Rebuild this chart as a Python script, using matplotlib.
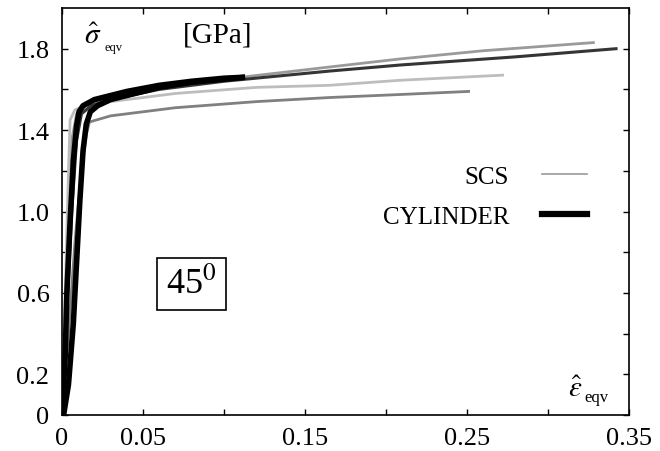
import matplotlib
matplotlib.use("Agg")
import matplotlib.pyplot as plt
from matplotlib.lines import Line2D

# SCS curves (grey)
scs_top_x = [0, 0.002, 0.004, 0.006, 0.009, 0.015, 0.03, 0.06, 0.10, 0.165, 0.209, 0.26, 0.328]
scs_top_y = [0, 0.50, 1.00, 1.35, 1.48, 1.52, 1.56, 1.61, 1.65, 1.71, 1.75, 1.79, 1.83]
scs_dark_x = [0, 0.003, 0.006, 0.009, 0.012, 0.018, 0.03, 0.06, 0.10, 0.165, 0.209, 0.28, 0.342]
scs_dark_y = [0, 0.50, 1.00, 1.35, 1.48, 1.52, 1.55, 1.60, 1.64, 1.69, 1.72, 1.76, 1.80]
scs_light_x = [0, 0.002, 0.004, 0.005, 0.008, 0.015, 0.03, 0.07, 0.12, 0.165, 0.209, 0.272]
scs_light_y = [0, 0.60, 1.20, 1.45, 1.50, 1.52, 1.54, 1.58, 1.61, 1.62, 1.645, 1.67]
scs_low_x = [0, 0.004, 0.008, 0.012, 0.015, 0.017, 0.03, 0.07, 0.12, 0.165, 0.209, 0.251]
scs_low_y = [0, 0.40, 0.85, 1.20, 1.38, 1.44, 1.47, 1.51, 1.54, 1.56, 1.575, 1.59]

# CYLINDER curves (thick black)
cyl_a_x = [0, 0.002, 0.003, 0.005, 0.007, 0.009, 0.0105, 0.013, 0.02, 0.04, 0.06, 0.08, 0.10, 0.113]
cyl_a_y = [0, 0.30, 0.60, 0.95, 1.25, 1.42, 1.49, 1.52, 1.55, 1.59, 1.62, 1.64, 1.655, 1.66]
cyl_b_x = [0.001, 0.004, 0.007, 0.009, 0.011, 0.013, 0.015, 0.0175, 0.022, 0.03, 0.04, 0.06, 0.08, 0.10, 0.113]
cyl_b_y = [0, 0.15, 0.45, 0.75, 1.05, 1.30, 1.43, 1.49, 1.52, 1.55, 1.57, 1.61, 1.635, 1.65, 1.66]

x_ticks = [0, 0.05, 0.10, 0.15, 0.20, 0.25, 0.30, 0.35]
x_labels = ["0", "0.05", "", "0.15", "", "0.25", "", "0.35"]
y_ticks = [0, 0.2, 0.4, 0.6, 0.8, 1.0, 1.2, 1.4, 1.6, 1.8]
y_labels = ["0", "0.2", "", "0.6", "", "1.0", "", "1.4", "", "1.8"]

plt.rcParams["font.family"] = ["Liberation Serif", "DejaVu Serif"]
plt.rcParams["mathtext.fontset"] = "stix"

fig = plt.figure(figsize=(6.6, 4.52), dpi=100)
ax = fig.add_axes([62 / 660, 1 - 416 / 452, 567 / 660, 407 / 452])

ax.plot(scs_top_x, scs_top_y, color="#9a9a9a", lw=2.0)
ax.plot(scs_light_x, scs_light_y, color="#bdbdbd", lw=2.0)
ax.plot(scs_low_x, scs_low_y, color="#808080", lw=2.0)
ax.plot(scs_dark_x, scs_dark_y, color="#353535", lw=2.2)
ax.plot(cyl_a_x, cyl_a_y, color="black", lw=4.0, solid_capstyle="butt")
ax.plot(cyl_b_x, cyl_b_y, color="black", lw=4.0, solid_capstyle="butt")

ax.set_xlim(0, 0.35)
ax.set_ylim(0, 2.0)
ax.set_xticks(x_ticks)
ax.set_xticklabels(x_labels)
ax.set_yticks(y_ticks)
ax.set_yticklabels(y_labels)
ax.tick_params(direction="in", top=True, right=True, length=4, width=1,
               labelsize=19, pad=9)
for s in ax.spines.values():
    s.set_linewidth(1.2)

# axis captions
ax.text(0.055, 0.93, r"$\hat{\sigma}$", transform=ax.transAxes,
        fontsize=21, ha="center", va="center")
ax.text(0.075, 0.905, "eqv", transform=ax.transAxes,
        fontsize=9, ha="left", va="center")
ax.text(0.274, 0.935, "[GPa]", transform=ax.transAxes,
        fontsize=21, ha="center", va="center")
ax.text(0.905, 0.065, r"$\hat{\varepsilon}$", transform=ax.transAxes,
        fontsize=21, ha="center", va="center")
ax.text(0.922, 0.045, "eqv", transform=ax.transAxes,
        fontsize=12, ha="left", va="center")

ax.text(0.228, 0.322, r"45$^0$", transform=ax.transAxes, fontsize=26,
        ha="center", va="center",
        bbox=dict(boxstyle="square,pad=0.25", fc="white", ec="black", lw=1.2))

handles = [Line2D([], [], color="#9a9a9a", lw=1.2),
           Line2D([], [], color="black", lw=4.5)]
ax.legend(handles, ["SCS", "CYLINDER"], loc="upper right",
          bbox_to_anchor=(0.965, 0.668), frameon=False, markerfirst=False,
          fontsize=18, handlelength=1.8, handletextpad=1.3, labelspacing=0.68)

fig.savefig("out.png", dpi=100)
